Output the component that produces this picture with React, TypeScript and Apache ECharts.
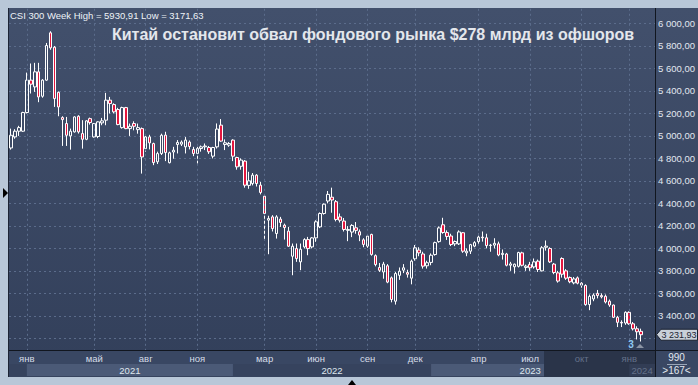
import React, { useEffect, useRef } from "react";
import * as echarts from "echarts";

const weeks: string[] = [
  "2020-12-07","2020-12-14","2020-12-21","2020-12-28",
  "2021-01-04","2021-01-11","2021-01-18","2021-01-25","2021-02-01","2021-02-08","2021-02-15","2021-02-22",
  "2021-03-01","2021-03-08","2021-03-15","2021-03-22","2021-03-29","2021-04-05","2021-04-12","2021-04-19","2021-04-26",
  "2021-05-03","2021-05-10","2021-05-17","2021-05-24","2021-05-31","2021-06-07","2021-06-14","2021-06-21","2021-06-28",
  "2021-07-05","2021-07-12","2021-07-19","2021-07-26","2021-08-02","2021-08-09","2021-08-16","2021-08-23","2021-08-30",
  "2021-09-06","2021-09-13","2021-09-20","2021-09-27","2021-10-04","2021-10-11","2021-10-18","2021-10-25",
  "2021-11-01","2021-11-08","2021-11-15","2021-11-22","2021-11-29","2021-12-06","2021-12-13","2021-12-20","2021-12-27",
  "2022-01-03","2022-01-10","2022-01-17","2022-01-24","2022-02-07","2022-02-14","2022-02-21","2022-02-28",
  "2022-03-07","2022-03-14","2022-03-21","2022-03-28","2022-04-04","2022-04-11","2022-04-18","2022-04-25",
  "2022-05-02","2022-05-09","2022-05-16","2022-05-23","2022-05-30","2022-06-06","2022-06-13","2022-06-20","2022-06-27",
  "2022-07-04","2022-07-11","2022-07-18","2022-07-25","2022-08-01","2022-08-08","2022-08-15","2022-08-22","2022-08-29",
  "2022-09-05","2022-09-12","2022-09-19","2022-09-26","2022-10-10","2022-10-17","2022-10-24","2022-10-31",
  "2022-11-07","2022-11-14","2022-11-21","2022-11-28","2022-12-05","2022-12-12","2022-12-19","2022-12-26",
  "2023-01-02","2023-01-09","2023-01-16","2023-01-30","2023-02-06","2023-02-13","2023-02-20","2023-02-27",
  "2023-03-06","2023-03-13","2023-03-20","2023-03-27","2023-04-03","2023-04-10","2023-04-17","2023-04-24",
  "2023-05-01","2023-05-08","2023-05-15","2023-05-22","2023-05-29","2023-06-05","2023-06-12","2023-06-19","2023-06-26",
  "2023-07-03","2023-07-10","2023-07-17","2023-07-24","2023-07-31","2023-08-07","2023-08-14","2023-08-21","2023-08-28",
  "2023-09-04","2023-09-11","2023-09-18","2023-09-25","2023-10-09","2023-10-16","2023-10-23","2023-10-30",
  "2023-11-06","2023-11-13","2023-11-20","2023-11-27","2023-12-04","2023-12-11","2023-12-18","2023-12-25",
  "2024-01-01","2024-01-08","2024-01-15","2024-01-22"
];
const padWeeks: string[] = ["2024-01-29", "2024-02-05", "2024-02-12"];

const opens: number[] = [
  4893,4991,5042,5042,5208,5496,5436,5570,5353,5496,5917,5789,5388,5163,5110,5000,5036,5175,5021,4970,
  5154,4991,4995,5116,5140,5318,5279,5235,5074,5252,5065,5110,5056,5065,4887,4991,4932,4770,4843,5007,
  4762,4857,4924,4927,4903,4945,4880,4844,4888,4903,4897,4820,4903,5096,4924,4918,4963,4808,4730,4776,
  4560,4577,4651,4562,4464,4251,4280,4132,4260,4206,4153,3930,3998,3880,4013,4078,4013,4093,4191,4310,
  4421,4455,4415,4280,4243,4160,4145,4183,4148,4076,4020,4124,3935,3830,3790,3845,3738,3530,3760,3806,
  3785,3735,3907,3985,3950,3845,3875,3945,4060,4210,4140,4110,4040,4040,4139,3960,3975,4020,4060,4100,
  4094,4025,4029,4040,3945,3950,3850,3836,3840,3960,3830,3856,3835,3886,3800,4010,3999,3860,3782,3910,
  3800,3741,3693,3738,3690,3670,3500,3550,3600,3580,3574,3530,3496,3387,3342,3336,3431,3329,3285,3262
];
const closes: number[] = [
  5006,5042,5074,5208,5496,5460,5570,5347,5496,5804,5783,5332,5258,5145,5006,5042,5169,5036,4970,5134,
  5119,5110,5125,5134,5318,5288,5214,5101,5252,5065,5086,5086,5074,4813,4991,4938,4763,4843,5006,4853,
  4850,4873,4942,4945,4963,4906,4844,4888,4903,4910,4859,4897,5061,4954,4939,4933,4820,4725,4785,4562,
  4601,4651,4577,4497,4310,4265,4176,4280,4230,4185,4019,4019,3909,3992,4078,3998,4093,4236,4310,4393,
  4480,4430,4257,4250,4168,4168,4204,4160,4118,4035,4109,3946,3856,3805,3860,3700,3545,3776,3797,3827,
  3770,3886,4005,3960,3842,3872,3939,4051,4182,4141,4106,4034,4061,4146,3975,3975,4033,4051,4100,4094,
  4025,4029,4045,3941,3956,3850,3862,3859,3963,3850,3842,3827,3880,3812,4005,4020,3880,3785,3709,3770,
  3735,3703,3728,3690,3673,3500,3573,3584,3580,3569,3523,3496,3387,3342,3336,3431,3329,3284,3258,3231.93
];
const lows: number[] = [
  4878,4975,5000,5036,5200,5377,5392,5300,5340,5490,5766,5258,5175,4911,4911,4878,5030,5021,4887,4962,
  5101,4985,4980,5095,5095,5200,5200,5095,5065,5060,5000,5050,5020,4665,4860,4880,4740,4750,4830,4776,
  4755,4797,4844,4910,4844,4880,4820,4755,4860,4874,4840,4800,4888,4948,4874,4903,4776,4700,4700,4540,
  4530,4560,4550,4480,4073,3948,4150,4087,4191,4078,4013,3761,3880,3806,4000,3939,4000,4058,4180,4300,
  4400,4317,4240,4230,4150,4064,4100,4130,4064,4010,4005,3935,3840,3790,3730,3690,3520,3500,3720,3780,
  3740,3680,3890,3930,3820,3820,3850,3935,4050,4130,4075,4020,4020,4030,3960,3930,3950,4010,4040,4060,
  4000,3970,4000,3930,3900,3840,3800,3776,3830,3840,3800,3800,3820,3790,3795,3980,3870,3770,3695,3740,
  3720,3690,3680,3680,3650,3490,3450,3530,3555,3555,3510,3480,3380,3300,3300,3320,3320,3270,3190,3171.63
];
const highs: number[] = [
  5065,5060,5090,5215,5563,5644,5650,5650,5505,5827,5930.91,5800,5395,5175,5169,5065,5175,5184,5140,5140,
  5163,5115,5130,5160,5383,5347,5290,5250,5260,5258,5110,5130,5110,5075,5000,5010,4940,4860,5020,5037,
  4860,4903,4963,4960,4990,4960,4903,4903,4915,4933,4910,4903,5111,5150,4969,4945,4970,4815,4800,4785,
  4681,4670,4660,4590,4480,4290,4295,4295,4280,4220,4191,4043,4043,4043,4090,4102,4100,4250,4320,4400,
  4510,4540,4430,4310,4270,4198,4215,4234,4168,4090,4124,4130,3946,3870,3880,3860,3750,3790,3830,3860,
  3810,3900,4030,4010,3970,3890,3955,4060,4195,4272,4160,4130,4070,4160,4145,4000,4040,4064,4130,4150,
  4130,4040,4090,4060,3990,3960,3880,3865,3970,3970,3855,3880,3910,3900,4020,4070,4010,3870,3800,3920,
  3815,3750,3745,3750,3700,3680,3590,3600,3630,3600,3590,3545,3500,3400,3360,3440,3440,3345,3307,3286
];

const monthTickWeeks: string[] = [
  "2021-01-04","2021-05-03","2021-08-02","2021-11-01","2022-03-07","2022-06-06",
  "2022-09-05","2022-12-05","2023-04-03","2023-07-03","2023-10-09","2024-01-01"
];
const monthTickLabels: string[] = ["янв","май","авг","ноя","мар","июн","сен","дек","апр","июл","окт","янв"];
const yearLabels: string[] = ["2021", "2022", "2023", "2024"];
const yearStartWeeks: string[] = ["2021-01-04", "2022-01-03", "2023-01-02", "2024-01-01"];
const overlayStartWeek = "2023-07-31";

const seriesName = "CSI 300";
const weekHigh = 5930.91;
const weekLow = 3171.63;
const lastPrice = 3231.93;
const titleText = "Китай остановит обвал фондового рынка $278 млрд из офшоров";
const cornerTop = "990";
const cornerBottom = ">167<";
const markerText = "3";

const FONT = "Liberation Sans, Arial, sans-serif";

function fmtNum(v: number, sepThousands: boolean): string {
  const s = v.toFixed(2);
  const [i, d] = s.split(".");
  const ii = sepThousands ? i.replace(/\B(?=(\d{3})+(?!\d))/g, " ") : i;
  return ii + "," + d;
}

export default function App() {
  const ref = useRef<HTMLDivElement>(null);
  useEffect(() => {
    if (!ref.current) return;
    const chart = echarts.init(ref.current, undefined, { renderer: "svg" });
    const cats = [...weeks, ...padWeeks];
    const data = weeks.map((_, i) => [opens[i], closes[i], lows[i], highs[i]]);
    chart.setOption({
      animation: false,
      backgroundColor: "#b8c7d8",
      grid: { left: 9, right: 43, top: 1, bottom: 24.2 },
      xAxis: {
        type: "category",
        data: cats,
        boundaryGap: true,
        axisLine: { show: false },
        axisTick: { show: false },
        axisLabel: { show: false },
        splitLine: { show: false },
      },
      yAxis: {
        type: "value",
        position: "right",
        min: 3000,
        max: 6200,
        interval: 200,
        axisLine: { show: false },
        axisTick: { show: false },
        splitLine: { show: true, lineStyle: { color: "#5b6c8b", type: [2, 3], width: 1 } },
        axisLabel: {
          margin: 3,
          fontSize: 9.5,
          color: "#e2e8f0",
          fontFamily: FONT,
          formatter: (v: number) => (v <= 3200 || v >= 6200 ? "" : fmtNum(v, true)),
        },
      },
      series: [
        {
          type: "candlestick",
          name: seriesName,
          data,
          barWidth: 3,
          itemStyle: {
            color: "transparent",
            color0: "#e3173f",
            borderColor: "#ffffff",
            borderColor0: "#ffffff",
            borderWidth: 1,
          },
          markLine: {
            silent: true,
            symbol: ["none", "none"],
            label: { show: false },
            lineStyle: { color: "#5b6c8b", type: [2, 3], width: 1 },
            data: monthTickWeeks.map((w) => ({ xAxis: w })),
          },
        },
      ],
    });

    const xOf = (w: string) => chart.convertToPixel({ xAxisIndex: 0 }, cats.indexOf(w)) as number;
    const band = (chart.convertToPixel({ xAxisIndex: 0 }, 1) as number) - (chart.convertToPixel({ xAxisIndex: 0 }, 0) as number);
    const yOf = (v: number) => chart.convertToPixel({ yAxisIndex: 0 }, v) as number;
    const plotRight = 655;
    const axisTop = 350;
    const yearTop = 364;
    const axisBottom = 377;
    const frame = "#b8c7d8";
    const overlayX = xOf(overlayStartWeek) - band / 2;

    const g: any[] = [];
    g.push({
      type: "rect", z: -10, silent: true,
      shape: { x: 8, y: 8, width: 690, height: axisBottom - 8 },
      style: {
        fill: new echarts.graphic.LinearGradient(0, 0, 0, 1, [
          { offset: 0, color: "#42506c" },
          { offset: 1, color: "#323f5a" },
        ]),
      },
    });
    g.push({ type: "rect", z: 100, silent: true, shape: { x: 0, y: 0, width: 698, height: 8 }, style: { fill: frame } });
    g.push({ type: "rect", z: 100, silent: true, shape: { x: 0, y: 0, width: 8, height: 385 }, style: { fill: frame } });
    g.push({ type: "rect", z: 100, silent: true, shape: { x: 0, y: axisBottom, width: 698, height: 385 - axisBottom }, style: { fill: frame } });
    g.push({ type: "rect", z: 50, silent: true, shape: { x: 8, y: axisTop, width: 690, height: yearTop - axisTop }, style: { fill: "#394763" } });
    g.push({ type: "rect", z: 50, silent: true, shape: { x: 8, y: yearTop, width: 690, height: axisBottom - yearTop }, style: { fill: "#36435e" } });
    g.push({ type: "rect", z: 50, silent: true, shape: { x: plotRight, y: axisTop, width: 698 - plotRight, height: axisBottom - axisTop }, style: { fill: "#394763" } });
    const yEdges = [...yearStartWeeks.map(xOf), plotRight];
    [0, 2].forEach((k) => {
      g.push({ type: "rect", z: 51, silent: true, shape: { x: yEdges[k], y: yearTop, width: yEdges[k + 1] - yEdges[k], height: axisBottom - yearTop - 1 }, style: { fill: "#4b5a77" } });
    });
    g.push({ type: "rect", z: 52, silent: true, shape: { x: overlayX, y: axisTop, width: plotRight - overlayX, height: axisBottom - axisTop }, style: { fill: "#2a3449" } });
    g.push({ type: "rect", z: 53, silent: true, shape: { x: yEdges[3], y: yearTop, width: plotRight - yEdges[3], height: axisBottom - yearTop - 1 }, style: { fill: "#323d55" } });
    g.push({ type: "line", z: 60, silent: true, shape: { x1: 8, y1: axisTop + 0.5, x2: 698, y2: axisTop + 0.5 }, style: { stroke: "#11161f", lineWidth: 1 } });
    g.push({ type: "line", z: 60, silent: true, shape: { x1: plotRight + 0.5, y1: 8, x2: plotRight + 0.5, y2: axisBottom }, style: { stroke: "#11161f", lineWidth: 1 } });
    g.push({ type: "line", z: 60, silent: true, shape: { x1: 8.5, y1: 8, x2: 8.5, y2: axisBottom }, style: { stroke: "#1c2435", lineWidth: 1 } });
    monthTickWeeks.forEach((w, k) => {
      const x = xOf(w);
      g.push({
        type: "text", z: 61, silent: true, x, y: 358.5,
        style: { text: monthTickLabels[k], fill: x >= overlayX ? "#647189" : "#d6dde8", font: `9.5px ${FONT}`, textAlign: "center", textVerticalAlign: "middle" },
      });
    });
    yearLabels.forEach((t, k) => {
      const cx = (yEdges[k] + yEdges[k + 1]) / 2;
      g.push({
        type: "text", z: 61, silent: true, x: cx, y: 370,
        style: { text: t, fill: cx >= overlayX ? "#647189" : "#dfe6ee", font: `9.5px ${FONT}`, textAlign: "center", textVerticalAlign: "middle" },
      });
    });
    g.push({ type: "text", z: 61, silent: true, x: 676.5, y: 357, style: { text: cornerTop, fill: "#e2e8f0", font: `10px ${FONT}`, textAlign: "center", textVerticalAlign: "middle" } });
    g.push({ type: "line", z: 61, silent: true, shape: { x1: 667, y1: 364.5, x2: 687, y2: 364.5 }, style: { stroke: "#9aa6b8", lineWidth: 1 } });
    g.push({ type: "text", z: 61, silent: true, x: 676.5, y: 370.5, style: { text: cornerBottom, fill: "#e2e8f0", font: `10px ${FONT}`, textAlign: "center", textVerticalAlign: "middle" } });
    g.push({
      type: "text", z: 61, silent: true, x: 10, y: 15,
      style: { text: `${seriesName} Week High = ${fmtNum(weekHigh, false)} Low = ${fmtNum(weekLow, false)}`, fill: "#eef2f7", font: `9.5px ${FONT}`, textVerticalAlign: "middle" },
    });
    g.push({
      type: "text", z: 61, silent: true, x: 112, y: 34.5,
      style: { text: titleText, fill: "#e4e7ec", font: `bold 16px ${FONT}`, textVerticalAlign: "middle" },
    });
    const py = yOf(lastPrice);
    g.push({
      type: "polygon", z: 70, silent: true,
      shape: { points: [[656.5, py], [661, py - 5.5], [697.5, py - 5.5], [697.5, py + 5.5], [661, py + 5.5]] },
      style: { fill: "#c9d0da", stroke: "#1a2130", lineWidth: 1 },
    });
    g.push({ type: "text", z: 71, silent: true, x: 661.5, y: py + 0.5, style: { text: fmtNum(lastPrice, true), fill: "#1d2433", font: `9px ${FONT}`, textVerticalAlign: "middle" } });
    g.push({ type: "text", z: 61, silent: true, x: 631, y: 344, style: { text: markerText, fill: "#8fcaf5", font: `bold 10px ${FONT}`, textAlign: "center", textVerticalAlign: "middle" } });
    g.push({ type: "polygon", z: 61, silent: true, shape: { points: [[636, 348], [640, 344], [644, 348]] }, style: { fill: "#8b94a4" } });
    g.push({ type: "polygon", z: 101, silent: true, shape: { points: [[3, 188], [8, 193], [3, 198]] }, style: { fill: "#000000" } });
    g.push({ type: "polygon", z: 101, silent: true, shape: { points: [[348, 385], [352, 380], [356, 385]] }, style: { fill: "#000000" } });

    chart.setOption({ graphic: g });
    return () => chart.dispose();
  }, []);
  return <div ref={ref} style={{ position: "absolute", left: 0, top: 0, width: 698, height: 385 }} />;
}
